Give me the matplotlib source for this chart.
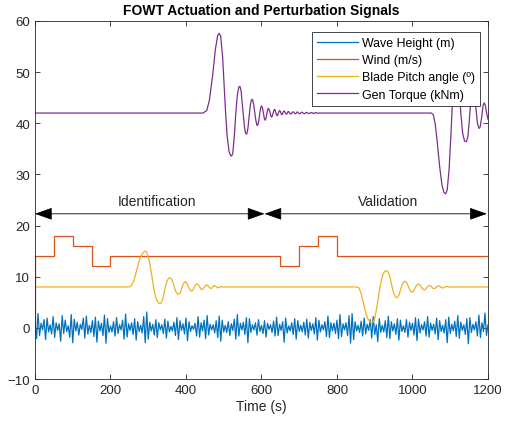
import numpy as np
import matplotlib
matplotlib.use('Agg')
import matplotlib.pyplot as plt

plt.rcParams['font.family'] = ['Liberation Sans', 'DejaVu Sans']

# wave height (m), one value every 4 s from 0 to 1200 s
wave_height = [
    1.2, -2.1, 2.8, -1.5, 0.9, -0.4, 1.6, -2.3, 1.9, -0.8,
    0.6, -1.2, 2.2, -1.9, 1.0, -0.5, 0.8, -2.6, 2.4, -1.1,
    1.5, -0.7, 0.4, -1.8, 2.6, -2.9, 1.7, -0.6, 1.1, -1.4,
    0.7, -0.3, 1.9, -2.0, 2.3, -1.2, 0.5, -0.9, 1.4, -1.7,
    2.1, -2.8, 1.3, -0.6, 0.9, -1.5, 2.5, -3.0, 1.8, -0.9,
    0.4, -0.8, 1.2, -1.6, 2.0, -1.1, 0.6, -0.4, 1.5, -2.2,
    2.7, -1.8, 0.8, -0.5, 1.0, -1.3, 1.8, -2.4, 1.2, -0.7,
    0.5, -1.0, 2.2, -2.9, 3.1, -2.2, 1.1, -0.6, 0.7, -1.4,
    1.6, -1.9, 1.0, -0.4, 0.6, -1.1, 1.7, -2.0, 1.3, -0.8,
    0.3, -0.6, 1.1, -1.5, 2.0, -2.3, 1.4, -0.5, 0.8, -1.2,
    1.9, -2.5, 1.2, -0.7, 0.4, -0.3, 0.9, -1.6, 2.2, -1.8,
    1.0, -0.6, 1.5, -2.1, 2.4, -1.4, 0.7, -0.4, 0.6, -1.0,
    1.4, -1.9, 2.3, -2.6, 1.5, -0.8, 0.5, -0.9, 1.2, -1.5,
    0.8, -0.5, 1.7, -2.2, 2.6, -1.6, 0.9, -0.4, 1.1, -1.3,
    2.0, -2.9, 1.8, -0.9, 0.6, -0.4, 1.0, -1.4, 1.6, -0.7,
    0.5, -1.1, 1.4, -1.8, 0.9, -0.3, 0.6, -0.9, 1.3, -1.6,
    2.1, -1.5, 0.7, -0.5, 1.2, -2.8, 1.9, -1.0, 0.4, -0.6,
    1.0, -1.3, 1.8, -2.2, 1.4, -0.7, 0.5, -0.8, 1.1, -1.4,
    1.7, -2.0, 1.1, -0.5, 0.8, -1.2, 2.0, -2.4, 1.5, -0.8,
    0.6, -0.4, 1.2, -1.7, 2.3, -1.9, 1.0, -0.6, 0.9, -1.1,
    1.5, -2.1, 2.6, -1.7, 0.8, -0.4, 1.0, -1.5, 2.4, -3.0,
    2.8, -2.3, 1.2, -0.6, 0.5, -0.9, 1.3, -1.6, 1.9, -1.2,
    0.7, -0.5, 1.6, -2.0, 2.2, -1.3, 0.6, -2.7, 1.8, -0.9,
    0.5, -0.8, 1.4, -1.9, 2.3, -2.1, 1.2, -0.6, 0.8, -1.3,
    1.8, -2.4, 1.5, -0.7, 0.4, -0.9, 1.6, -1.8, 1.1, -0.5,
    0.9, -1.4, 2.0, -2.5, 1.7, -1.0, 0.6, -0.4, 1.2, -1.6,
    2.2, -1.8, 0.9, -0.5, 0.7, -1.2, 1.9, -2.3, 1.4, -0.7,
    0.5, -1.0, 1.6, -2.9, 2.1, -1.1, 0.7, -0.6, 1.3, -1.7,
    2.4, -2.0, 1.1, -0.5, 0.6, -1.3, 1.8, -3.1, 2.0, -0.9,
    0.7, -0.4, 1.2, -1.6, 2.5, -1.9, 1.0, -0.7, 2.9, -1.5,
    0.6,
]
wave_t = np.arange(len(wave_height)) * 4

# wind (m/s), step changes
wind_t = [0, 0, 50, 100, 150, 200, 650, 700, 750, 800, 1200]
wind_v = [0, 14, 18, 16, 12, 14, 12, 16, 18, 14, 14]

# blade pitch angle (deg)
pitch_t = [0, 250, 256, 262, 268, 274, 280, 286, 291, 295, 299, 304, 309, 314, 319, 324,
           329, 333, 337, 341, 345, 349, 353, 357, 361, 365, 369, 373, 377, 381, 385, 389,
           393, 397, 401, 405, 409, 413, 417, 421, 425, 429, 433, 437, 441, 444, 448, 452,
           456, 460, 464, 467, 471, 474, 477, 481, 484, 487, 491, 494, 497,
           850, 857, 863, 869, 875, 881, 887, 893, 897, 901, 906, 911, 916, 921, 926, 931,
           935, 939, 944, 948, 953, 957, 961, 965, 969, 973, 977, 981, 985, 989, 993, 997,
           1001, 1005, 1009, 1013, 1017, 1021, 1025, 1029, 1033, 1037, 1041, 1045, 1049,
           1053, 1057, 1061, 1065, 1069, 1073, 1077, 1081, 1085, 1089, 1093, 1097, 1100, 1200]
pitch_v = [8, 8, 8.3, 9.3, 10.9, 12.6, 13.9, 14.7, 15.0, 14.9, 14.2, 12.6, 10.4, 8.0, 6.2, 5.2,
           4.8, 4.8, 5.3, 6.5, 7.9, 9.0, 9.6, 9.8, 9.6, 9.0, 8.0, 7.1, 6.7, 6.6, 6.9, 7.8,
           8.6, 9.0, 8.9, 8.3, 7.6, 7.2, 7.3, 7.8, 8.4, 8.6, 8.4, 7.9, 7.5, 7.5, 7.9, 8.3,
           8.4, 8.1, 7.75, 7.7, 8.0, 8.2, 8.25, 8.0, 7.85, 7.85, 8.0, 8.05, 8.0,
           8, 7.9, 7.0, 5.2, 3.3, 1.9, 1.2, 1.0, 1.2, 2.2, 4.2, 6.6, 8.8, 10.3, 11.0, 11.2,
           11.0, 10.3, 8.7, 7.3, 6.3, 5.9, 6.0, 6.6, 7.6, 8.5, 9.0, 9.1, 8.8, 8.1, 7.4, 7.0,
           7.1, 7.5, 8.1, 8.5, 8.55, 8.3, 7.8, 7.45, 7.45, 7.8, 8.2, 8.3, 8.15,
           7.8, 7.65, 7.8, 8.1, 8.2, 8.1, 7.85, 7.8, 7.95, 8.1, 8.05, 7.95, 8.0, 8.0]

# generator torque (kNm)
torque_t = [0, 445, 455, 462, 470, 478, 484, 488, 492, 497, 501, 505, 509, 514, 518, 521,
            524, 528, 532, 536, 540, 543, 546, 549, 552, 555, 558, 561, 564, 567, 570, 573,
            576, 579, 582, 585, 588, 590, 593, 596, 598, 600, 602, 605, 608, 610, 612, 615,
            617, 619, 622, 625, 627, 629, 632, 634, 636, 639, 641, 643, 646, 648, 650, 653,
            655, 658, 660, 662, 665, 667, 670, 672, 674, 677, 679, 682, 684, 686, 689, 691,
            694, 696, 698, 701, 703, 706, 708, 710, 713, 715, 718, 720, 722, 725, 728, 731,
            734, 737, 740, 743, 746, 749, 752,
            1050, 1055, 1060, 1066, 1072, 1078, 1083, 1088, 1092, 1097, 1102, 1107, 1111, 1115,
            1119, 1123, 1128, 1133, 1138, 1143, 1147, 1151, 1155, 1159, 1162, 1165, 1168, 1172,
            1176, 1179, 1183, 1187, 1190, 1193, 1197, 1200]
torque_v = [42, 42, 42.5, 44.5, 49, 54.5, 57.2, 57.6, 57, 53, 47.5, 42, 37.5, 34.5, 33.7, 33.6,
            34.2, 37.5, 42, 45.5, 47.1, 47.2, 46.3, 44, 41.5, 39.2, 38, 37.9, 39, 41.2, 43.3, 44.5,
            44.7, 43.8, 42.2, 40.6, 39.6, 39.6, 40.6, 42.2, 43.1, 43.4, 43.2, 42, 40.8, 40.6, 41, 42.2,
            42.8, 42.9, 42.3, 41.4, 41.2, 41.5, 42.3, 42.7, 42.6, 41.8, 41.5, 41.6, 42.3, 42.5, 42.3, 41.7,
            41.7, 42.3, 42.4, 42.2, 41.8, 41.8, 42.25, 42.3, 42.1, 41.8, 41.85, 42.2, 42.25, 42.05, 41.85, 41.9,
            42.2, 42.2, 42.0, 41.85, 41.9, 42.15, 42.15, 42.0, 41.88, 41.9, 42.12, 42.12, 42.0, 41.9, 41.95, 42.1,
            42.05, 41.92, 41.95, 42.08, 42.05, 41.95, 42.0,
            42, 41.7, 40, 36, 31.5, 28, 26.5, 26.2, 27, 31, 38, 46, 51, 53,
            52, 48, 42, 38, 36.5, 36.4, 37.5, 41, 45, 47, 47.2, 46, 43, 40,
            39, 39.2, 41, 43.5, 44, 43.5, 41.8, 40.8]

colors = ['#0072BD', '#D95319', '#EDB120', '#7E2F8E']

fig = plt.figure(figsize=(5.05, 4.31), dpi=100)
ax = fig.add_axes([0.0693, 0.1183, 0.897, 0.8307])

ax.plot(wave_t, wave_height, color=colors[0], lw=0.9, label='Wave Height (m)')
ax.step(wind_t, wind_v, where='post', color=colors[1], lw=0.9, label='Wind (m/s)')
ax.plot(pitch_t, pitch_v, color=colors[2], lw=0.9, label='Blade Pitch angle (º)')
ax.plot(torque_t, torque_v, color=colors[3], lw=0.9, label='Gen Torque (kNm)')

# identification / validation arrows
arr = dict(arrowstyle='<|-|>,head_length=0.9,head_width=0.32', color='black', lw=0.6,
           mutation_scale=12, shrinkA=0, shrinkB=0)
ax.annotate('', xy=(0, 22.3), xytext=(608, 22.3), arrowprops=arr)
ax.annotate('', xy=(608, 22.3), xytext=(1197, 22.3), arrowprops=arr)
ax.text(322, 23.4, 'Identification', ha='center', va='bottom', fontsize=10, color='#262626')
ax.text(935, 23.4, 'Validation', ha='center', va='bottom', fontsize=10, color='#262626')

ax.set_xlim(0, 1200)
ax.set_ylim(-10, 60)
ax.set_xticks(range(0, 1201, 200))
ax.set_yticks(range(-10, 61, 10))
ax.tick_params(direction='in', top=True, right=True, length=3.5, width=0.6,
               labelsize=9.5, colors='#262626')
for s in ax.spines.values():
    s.set_linewidth(0.6)
    s.set_color('#262626')

ax.set_xlabel('Time (s)', fontsize=10, color='#262626', labelpad=2)
ax.set_title('FOWT Actuation and Perturbation Signals', fontsize=10, fontweight='bold', pad=5)

leg = ax.legend(loc='upper right', bbox_to_anchor=(0.982, 0.969), fontsize=8.9, handlelength=3.3,
                fancybox=False, framealpha=1, edgecolor='#262626', borderpad=0.4,
                labelspacing=0.42, handletextpad=0.3, borderaxespad=0)
leg.get_frame().set_linewidth(0.6)

fig.savefig('out.png', dpi=100)
